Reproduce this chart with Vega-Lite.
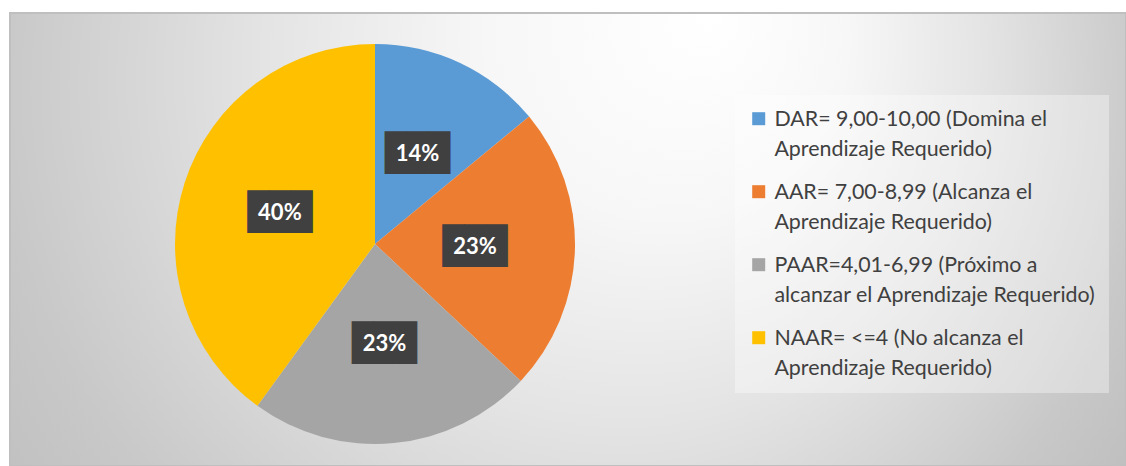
{
  "$schema": "https://vega.github.io/schema/vega-lite/v6.json",
  "width": 1116,
  "height": 453,
  "autosize": {"type": "none"},
  "padding": {"left": 10, "top": 13, "right": 0, "bottom": 0},
  "background": "#ffffff",
  "view": {
    "fill": {
      "gradient": "radial",
      "x1": 0.6272, "y1": 0.297, "r1": 0,
      "x2": 0.4749, "y2": 0.3867, "r2": 0.6452,
      "stops": [
        {"offset": 0, "color": "#ffffff"},
        {"offset": 0.25, "color": "#f7f7f7"},
        {"offset": 0.5, "color": "#e4e4e4"},
        {"offset": 0.65, "color": "#d6d6d6"},
        {"offset": 0.8, "color": "#c8c8c8"},
        {"offset": 1, "color": "#bcbcbc"}
      ]
    },
    "stroke": "#bfbfbf",
    "strokeWidth": 2
  },
  "data": {
    "values": [
      {"nivel": "DAR= 9,00-10,00 (Domina el Aprendizaje Requerido)", "porcentaje": 0.14, "orden": 1},
      {"nivel": "AAR= 7,00-8,99 (Alcanza el Aprendizaje Requerido)", "porcentaje": 0.23, "orden": 2},
      {"nivel": "PAAR=4,01-6,99 (Próximo a alcanzar el Aprendizaje Requerido)", "porcentaje": 0.23, "orden": 3},
      {"nivel": "NAAR= <=4 (No alcanza el Aprendizaje Requerido)", "porcentaje": 0.40, "orden": 4}
    ]
  },
  "encoding": {
    "theta": {"field": "porcentaje", "type": "quantitative", "stack": true},
    "order": {"field": "orden", "type": "quantitative"}
  },
  "layer": [
    {
      "mark": {"type": "arc", "outerRadius": 200, "xOffset": -193, "yOffset": 4.5},
      "encoding": {
        "color": {
          "field": "nivel",
          "type": "nominal",
          "scale": {
            "domain": [
              "DAR= 9,00-10,00 (Domina el Aprendizaje Requerido)",
              "AAR= 7,00-8,99 (Alcanza el Aprendizaje Requerido)",
              "PAAR=4,01-6,99 (Próximo a alcanzar el Aprendizaje Requerido)",
              "NAAR= <=4 (No alcanza el Aprendizaje Requerido)"
            ],
            "range": ["#5b9bd5", "#ed7d31", "#a5a5a5", "#ffc000"]
          },
          "legend": {
            "title": null,
            "orient": "none",
            "legendX": 725,
            "legendY": 82,
            "fillColor": "rgba(255,255,255,0.35)",
            "padding": 13,
            "symbolType": "square",
            "symbolSize": 169,
            "symbolStrokeWidth": 0,
            "symbolOpacity": 1,
            "labelFont": "Lato",
            "labelFontSize": 21.4,
            "labelColor": "#404040",
            "labelLimit": 600,
            "labelBaseline": "alphabetic",
            "labelOffset": 5,
            "rowPadding": 20,
            "labelExpr": "split(replace(datum.label, regexp(' (?=(alcanzar el )?Aprendizaje)'), '|'), '|')",
            "encode": {
              "labels": {"update": {"dy": {"value": 7}, "lineHeight": {"value": 30}}}
            }
          }
        }
      }
    },
    {
      "mark": {"type": "text", "radius": 100, "xOffset": -193, "yOffset": 4.5, "font": "DejaVu Sans Mono", "fontSize": 36, "baseline": "middle", "align": "center"},
      "encoding": {
        "detail": {"field": "nivel", "type": "nominal"},
        "text": {"value": "███"},
        "color": {"value": "#404040"}
      }
    },
    {
      "mark": {"type": "text", "radius": 100, "xOffset": -193, "yOffset": 4.5, "font": "Lato", "fontWeight": "bold", "fontSize": 22, "baseline": "middle", "align": "center"},
      "encoding": {
        "detail": {"field": "nivel", "type": "nominal"},
        "text": {"field": "porcentaje", "type": "quantitative", "format": ".0%"},
        "color": {"value": "#ffffff"}
      }
    }
  ]
}
